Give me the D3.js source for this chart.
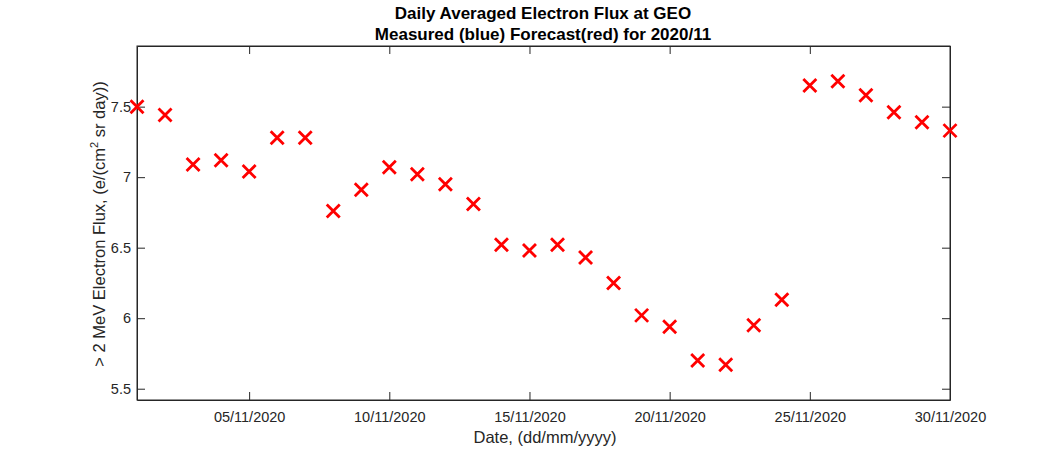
<!DOCTYPE html>
<html>
<head>
<meta charset="utf-8">
<script src="https://cdn.jsdelivr.net/npm/d3@7"></script>
<style>
body { margin: 0; background: #fff; }
text { font-family: "Liberation Sans", Arial, sans-serif; fill: #262626; }
</style>
</head>
<body>
<div id="chart"></div>
<script>
// forecast values, one per day of Nov 2020
var days = d3.range(1, 31);
var forecast = [7.50, 7.44, 7.09, 7.12, 7.04, 7.28, 7.28, 6.76, 6.91, 7.07,
                7.02, 6.95, 6.81, 6.52, 6.48, 6.52, 6.43, 6.25, 6.02, 5.94,
                5.70, 5.67, 5.95, 6.13, 7.65, 7.68, 7.58, 7.46, 7.39, 7.33];
var yTicks = [5.5, 6, 6.5, 7, 7.5];
var xTickDays = [5, 10, 15, 20, 25, 30];

var W = 1050, H = 450;
var margin = {left: 137, right: 100, top: 46, bottom: 50};

var svg = d3.select("#chart").append("svg")
    .attr("width", W)
    .attr("height", H);

var x = d3.scaleTime()
    .domain([new Date(2020, 10, 1), new Date(2020, 10, 30)])
    .range([margin.left, W - margin.right]);

var y = d3.scaleLinear()
    .domain([5.42, 7.93])
    .range([H - margin.bottom, margin.top]);

var fmt = d3.timeFormat("%d/%m/%Y");
var tickDates = xTickDays.map(function(d) { return new Date(2020, 10, d); });

// bottom / top axes, ticks pointing inward
svg.append("g")
    .attr("transform", "translate(0," + (H - margin.bottom) + ")")
    .call(d3.axisBottom(x).tickValues(tickDates).tickFormat(fmt).tickSizeInner(-8).tickSizeOuter(0).tickPadding(12))
    .call(function(g) { g.selectAll("text").style("font-size", "14.5px"); });
svg.append("g")
    .attr("transform", "translate(0," + margin.top + ")")
    .call(d3.axisTop(x).tickValues(tickDates).tickFormat("").tickSizeInner(-8).tickSizeOuter(0));

svg.append("g")
    .attr("transform", "translate(" + margin.left + ",0)")
    .call(d3.axisLeft(y).tickValues(yTicks).tickFormat(d3.format("")).tickSizeInner(-8).tickSizeOuter(0).tickPadding(6))
    .call(function(g) { g.selectAll("text").style("font-size", "14.5px"); });
svg.append("g")
    .attr("transform", "translate(" + (W - margin.right) + ",0)")
    .call(d3.axisRight(y).tickValues(yTicks).tickFormat("").tickSizeInner(-8).tickSizeOuter(0));

svg.selectAll(".domain").attr("stroke", "#262626");
svg.selectAll(".tick line").attr("stroke", "#262626");

// box
svg.append("rect")
    .attr("x", margin.left).attr("y", margin.top)
    .attr("width", W - margin.left - margin.right)
    .attr("height", H - margin.top - margin.bottom)
    .attr("fill", "none").attr("stroke", "#262626").attr("stroke-width", 1);

// x markers
var s = 6.5;
svg.append("g").selectAll("path")
    .data(days)
    .enter().append("path")
    .attr("d", function(d, i) {
        var cx = x(new Date(2020, 10, d)), cy = y(forecast[i]);
        return "M" + (cx - s) + "," + (cy - s) + "L" + (cx + s) + "," + (cy + s) +
               "M" + (cx - s) + "," + (cy + s) + "L" + (cx + s) + "," + (cy - s);
    })
    .attr("stroke", "#ff0000")
    .attr("stroke-width", 2.8)
    .attr("fill", "none");

// titles
svg.append("text").attr("x", 543).attr("y", 19).attr("text-anchor", "middle")
    .style("font-size", "17px").style("font-weight", "bold").style("fill", "#000")
    .text("Daily Averaged Electron Flux at GEO");
svg.append("text").attr("x", 543).attr("y", 40).attr("text-anchor", "middle")
    .style("font-size", "17px").style("font-weight", "bold").style("fill", "#000")
    .text("Measured (blue) Forecast(red) for 2020/11");

svg.append("text").attr("x", 545).attr("y", 443).attr("text-anchor", "middle")
    .style("font-size", "16.5px")
    .text("Date, (dd/mm/yyyy)");

var yl = svg.append("text")
    .attr("transform", "translate(105," + 224 + ") rotate(-90)")
    .attr("text-anchor", "middle")
    .style("font-size", "16.5px");
yl.append("tspan").text("> 2 MeV Electron Flux, (e/(cm");
yl.append("tspan").attr("dy", -7).style("font-size", "11px").text("2");
yl.append("tspan").attr("dy", 7).text(" sr day))");
</script>
</body>
</html>
